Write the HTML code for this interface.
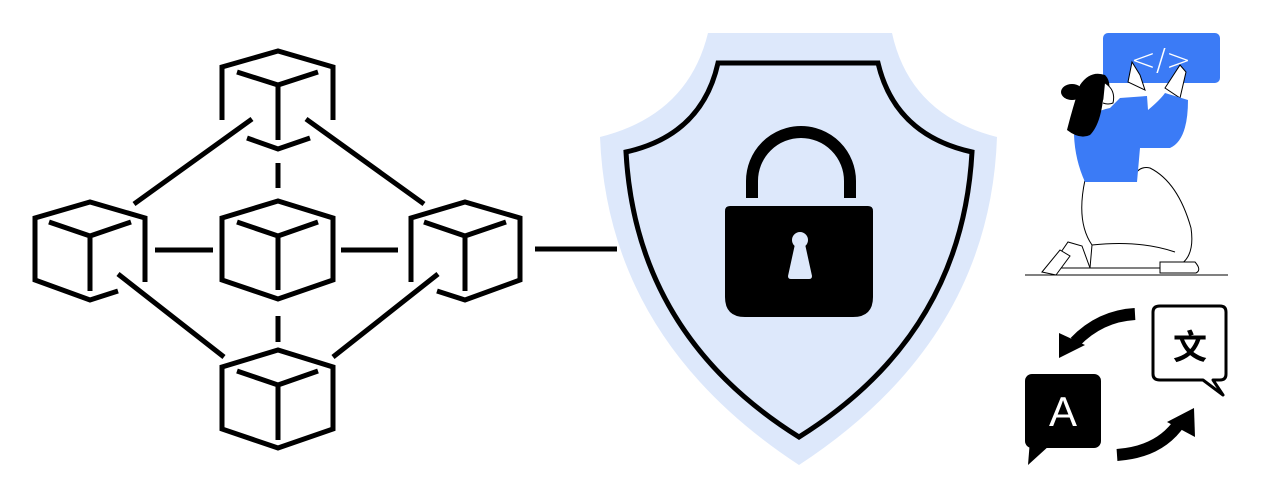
<!DOCTYPE html>
<html><head><meta charset="utf-8"><style>
html,body{margin:0;padding:0;background:#fff;width:1261px;height:500px;overflow:hidden}
svg{display:block}
</style></head><body>
<svg width="1261" height="500" viewBox="0 0 1261 500" xmlns="http://www.w3.org/2000/svg">
<g fill="none" stroke="#000" stroke-width="5" stroke-linejoin="miter" stroke-linecap="butt">
<path d="M222,120 V67 L278,51 L333,67 V120"/>
<path d="M237,72 L278,85 L318,72 M278,85 V140"/>
<path d="M247,138 L278,149 L310,138"/>
<path d="M222,218 L278,201 L333,218 V280 L278,299 L222,280 Z"/>
<path d="M237,222 L278,236 L318,222 M278,236 V290"/>
<path d="M145,282 V218 L90,202 L35,218 V280 L90,300 L118,291"/>
<path d="M49,222 L90,236 L131,222 M90,236 V291"/>
<path d="M411,282 V218 L465,202 L520,218 V280 L465,300 L437,291"/>
<path d="M424,222 L465,236 L506,222 M465,236 V291"/>
<path d="M222,367 L278,350 L333,367 V429 L278,448 L222,429 Z"/>
<path d="M237,371 L278,385 L318,371 M278,385 V440"/>
<path d="M252,119 L134,204 M306,119 L424,204 M118,274 L224,357 M438,274 L333,357"/>
<path d="M155,250 H213 M341,250 H398 M535,249 H617"/>
<path d="M278,163 V188 M278,316 V342"/>
</g>
<path d="M708,33 H892 Q910,115 997,137 Q990,340 799,465 Q608,340 600,137 Q688,115 708,33 Z" fill="#dde8fb"/>
<path d="M718,63 H878 Q895,135 972,152 Q962,335 799,437 Q636,335 626,152 Q702,135 718,63 Z" fill="none" stroke="#000" stroke-width="5" stroke-linejoin="miter"/>
<path d="M752,198 V181 A49,49 0 0 1 850,181 V198" fill="none" stroke="#000" stroke-width="12"/>
<path d="M730,206 H868 Q873,206 873,211 V297 Q873,317 853,317 H745 Q725,317 725,297 V211 Q725,206 730,206 Z" fill="#000"/>
<circle cx="800" cy="240" r="8" fill="#dde8fb"/>
<path d="M795,244 H805 L812,276 Q812,279 809,279 H791 Q788,279 788,276 Z" fill="#dde8fb"/>
<!-- person -->
<line x1="1025" y1="275" x2="1228" y2="275" stroke="#000" stroke-width="1"/>
<rect x="1103" y="33" width="117" height="50" rx="5" fill="#3b7bf6"/>
<text x="1161" y="70" font-family="DejaVu Sans, sans-serif" font-size="30" font-weight="300" fill="#fff" text-anchor="middle">&lt;/&gt;</text>
<g fill="#fff" stroke="#000" stroke-width="1">
<path d="M1085,180 Q1076,222 1092,245 L1090,268 L1172,268 Q1196,262 1191,228 Q1178,182 1150,168 Q1138,165 1132,180 Z"/>
<path d="M1092,245 Q1140,240 1175,252"/>
<path d="M1050,268 L1068,242 L1082,246 L1090,268 Z"/>
<path d="M1042,272 L1060,250 L1070,256 L1056,275 Z"/>
<path d="M1160,262 L1195,262 Q1202,270 1196,273 L1160,273 Z"/>
<path d="M1128,82 L1132,62 L1140,75 L1145,90 Z"/>
<path d="M1165,88 L1180,65 L1186,72 L1180,98 Z"/>
</g>
<path d="M1074,135 Q1088,112 1110,108 L1120,98 L1147,96 L1148,110 Q1160,100 1165,93 L1188,100 Q1188,140 1170,148 L1140,148 L1137,182 L1085,182 Q1075,160 1074,135 Z" fill="#3b7bf6"/>
<ellipse cx="1072" cy="92" rx="11" ry="8" fill="#000"/>
<path d="M1080,85 Q1090,70 1105,75 Q1112,82 1108,95 L1103,100 Q1100,125 1090,135 Q1080,140 1067,130 Q1072,110 1080,85 Z" fill="#000"/>
<path d="M1105,83 Q1116,90 1113,103 Q1108,105 1103,103" fill="#fff" stroke="#000" stroke-width="1"/>
<!-- translate -->
<rect x="1025" y="374" width="76" height="74" rx="7" fill="#000"/>
<path d="M1030,440 L1028,465 L1050,445 Z" fill="#000"/>
<text x="1063" y="426" font-family="Liberation Sans, sans-serif" font-size="42" fill="#fff" text-anchor="middle">A</text>
<path d="M1160,306 H1220 Q1226,306 1226,312 V374 Q1226,380 1220,380 L1213,380 L1223,395 L1203,380 H1160 Q1153,380 1153,374 V312 Q1153,306 1160,306 Z" fill="#fff" stroke="#000" stroke-width="3" stroke-linejoin="round"/>
<text x="1190" y="359" font-family="Liberation Sans, Noto Sans CJK SC, sans-serif" font-size="34" font-weight="bold" fill="#000" text-anchor="middle">文</text>
<path d="M1135,314 Q1100,316 1075,342" fill="none" stroke="#000" stroke-width="12"/>
<path d="M1059,358 L1059,333 L1085,345 Z" fill="#000"/>
<path d="M1117,455 Q1160,452 1180,422" fill="none" stroke="#000" stroke-width="12"/>
<path d="M1194,408 L1195,437 L1167,422 Z" fill="#000"/>
</svg>
</body></html>
